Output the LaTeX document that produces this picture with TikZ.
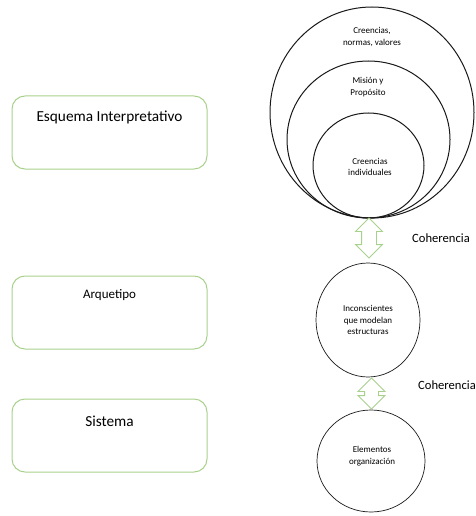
\documentclass[tikz,border=0pt]{standalone}
\usepackage{fontspec}
\setmainfont{Carlito}
\usetikzlibrary{positioning, shapes.geometric, shapes.arrows}
\definecolor{boxGreen}{RGB}{169,209,142}
\definecolor{ringBlack}{gray}{0.1}

\begin{document}
\begin{tikzpicture}[x=1pt, y=-1pt,
    level/.style={draw=boxGreen, line width=1pt, rounded corners=13pt, minimum width=195pt, minimum height=73pt},
    ring/.style={draw=ringBlack, line width=1pt, ellipse, inner sep=0pt},
    oval/.style={draw=ringBlack, line width=0.7pt, ellipse, inner sep=0pt},
    small/.style={font=\fontsize{9}{11.5}\selectfont, align=center, inner sep=0pt},
    link/.style={double arrow, draw=boxGreen, fill=white, line width=0.8pt, inner xsep=0pt, rotate=90},
    coh/.style={font=\fontsize{12.6}{14}\selectfont, anchor=west, inner sep=0pt}]
    \useasboundingbox (0,0) rectangle (475,516);

    % niveles
    \node[level, label={[anchor=center, yshift=-22pt, font=\fontsize{15.3}{17}\selectfont]north:Esquema Interpretativo}] (esquema) at (109.5,132.5) {};
    \node[level, label={[anchor=center, yshift=-20pt, font=\fontsize{13}{15}\selectfont]north:Arquetipo}] (arquetipo) at (109.5,312.5) {};
    \node[level, label={[anchor=center, yshift=-22.5pt, font=\fontsize{15.3}{17}\selectfont]north:Sistema}] (sistema) at (109.5,435.5) {};

    % circulos
    \node[ring, minimum width=204pt, minimum height=211pt] (valores) at (372,112.5) {};
    \node[ring, minimum width=163pt, minimum height=157pt] (mision) at (368.5,139.5) {};
    \node[ring, minimum width=111pt, minimum height=105pt] (individual) at (368.5,165.5) {};
    \node[small] (valorestext) at (372,37) {Creencias,\\normas, valores};
    \node[small] (misiontext) at (368,87) {Misión y\\Propósito};
    \node[small] (individualtext) at (370,167) {Creencias\\individuales};

    \node[oval, small, minimum width=104pt, minimum height=114pt] (arquetipos) at (368,320) {Inconscientes\\que modelan\\estructuras};
    \node[oval, minimum width=108pt, minimum height=102pt] (elementos) at (371,461) {};
    \node[small] (elementostext) at (372,456) {Elementos\\organización};

    % coherencia
    \node[link, minimum height=40pt, inner ysep=7pt, double arrow head extend=6pt] (coher1) at (369,238) {};
    \node[link, minimum height=31pt, inner ysep=6.5pt, double arrow head extend=6.5pt] (coher2) at (371.5,393.5) {};
    \node[coh] (coh1) at (412,238) {Coherencia};
    \node[coh] (coh2) at (418,385) {Coherencia};
\end{tikzpicture}
\end{document}
